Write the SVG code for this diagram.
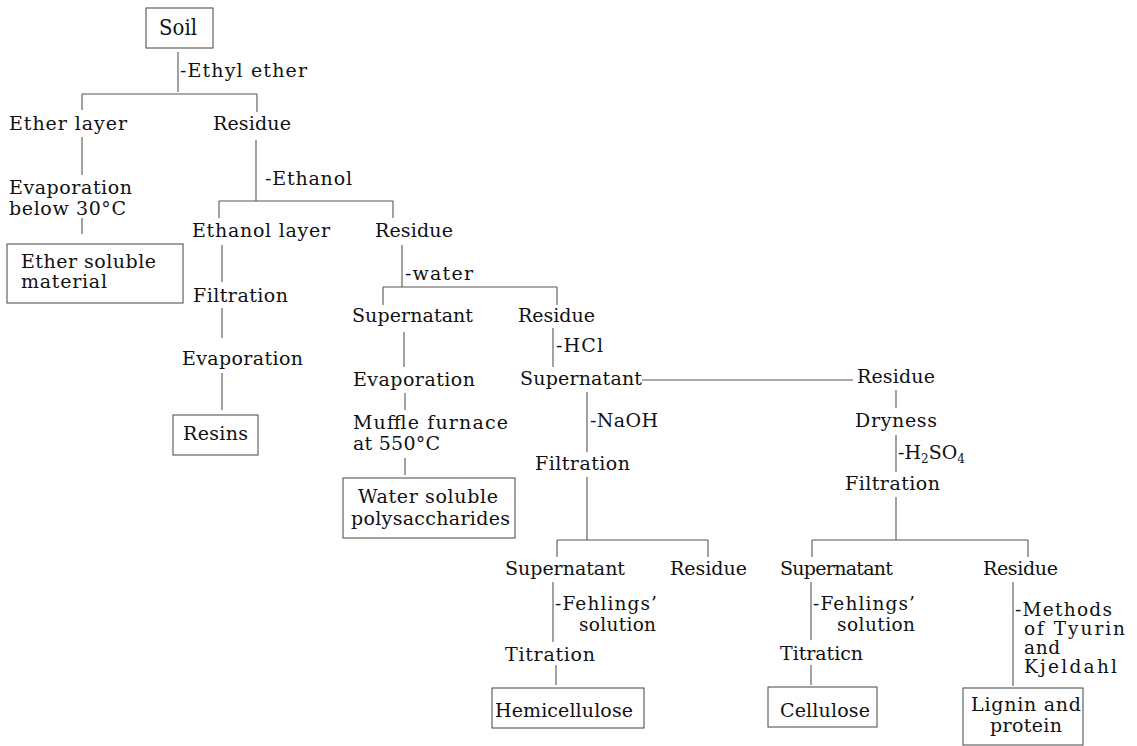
<svg xmlns="http://www.w3.org/2000/svg" width="1137" height="746" viewBox="0 0 1137 746">
<style>
text{font-family:"DejaVu Serif","Liberation Serif",serif;font-size:19px;fill:#111}
.big{font-size:22px}
.sm{font-size:18.5px}
.box{fill:none;stroke:#555;stroke-width:1.1}
#connectors line{stroke:#555;stroke-width:1.1}
.sub{font-size:12px}
</style>
<rect width="1137" height="746" fill="#fff"/>
<g id="connectors">
<line x1="178" y1="52" x2="178" y2="92"/>
<line x1="82" y1="94" x2="257" y2="94"/>
<line x1="82" y1="94" x2="82" y2="110"/>
<line x1="257" y1="94" x2="257" y2="112"/>
<line x1="82" y1="137" x2="82" y2="175"/>
<line x1="82" y1="218" x2="82" y2="234"/>
<line x1="256" y1="140" x2="256" y2="201"/>
<line x1="219" y1="201" x2="393" y2="201"/>
<line x1="219" y1="201" x2="219" y2="218"/>
<line x1="393" y1="201" x2="393" y2="218"/>
<line x1="222" y1="245" x2="222" y2="282"/>
<line x1="222" y1="308" x2="222" y2="338"/>
<line x1="222" y1="373" x2="222" y2="410"/>
<line x1="402" y1="245" x2="402" y2="287"/>
<line x1="383" y1="287" x2="557" y2="287"/>
<line x1="383" y1="287" x2="383" y2="305"/>
<line x1="557" y1="287" x2="557" y2="305"/>
<line x1="404" y1="332" x2="404" y2="367"/>
<line x1="405" y1="393" x2="405" y2="410"/>
<line x1="405" y1="458" x2="405" y2="475"/>
<line x1="553" y1="328" x2="553" y2="367"/>
<line x1="642" y1="380" x2="853" y2="380"/>
<line x1="587" y1="392" x2="587" y2="452"/>
<line x1="587" y1="477" x2="587" y2="540"/>
<line x1="557" y1="540" x2="708" y2="540"/>
<line x1="557" y1="540" x2="557" y2="557"/>
<line x1="708" y1="540" x2="708" y2="557"/>
<line x1="896" y1="390" x2="896" y2="408"/>
<line x1="896" y1="435" x2="896" y2="472"/>
<line x1="896" y1="497" x2="896" y2="540"/>
<line x1="812" y1="540" x2="1028" y2="540"/>
<line x1="812" y1="540" x2="812" y2="557"/>
<line x1="1028" y1="540" x2="1028" y2="557"/>
<line x1="553" y1="582" x2="553" y2="642"/>
<line x1="556" y1="665" x2="556" y2="685"/>
<line x1="811" y1="582" x2="811" y2="640"/>
<line x1="811" y1="665" x2="811" y2="685"/>
<line x1="1013" y1="582" x2="1013" y2="686"/>
</g>
<g id="soil"><rect class="box" x="146" y="8" width="67" height="40"/><text class="big" x="159" y="35" textLength="38" lengthAdjust="spacingAndGlyphs">Soil</text></g>
<g id="lbl-ethyl-ether"><text x="180" y="77" textLength="127">-Ethyl ether</text></g>
<g id="ether-layer"><text x="9" y="130" textLength="118">Ether layer</text></g>
<g id="residue-1"><text x="213" y="130" textLength="78">Residue</text></g>
<g id="evaporation-1"><text x="9" y="194" textLength="123">Evaporation</text><text x="9" y="215" textLength="117">below 30°C</text></g>
<g id="lbl-ethanol"><text x="265" y="185" textLength="87">-Ethanol</text></g>
<g id="ether-soluble"><rect class="box" x="7" y="244" width="176" height="59"/><text x="21" y="268" textLength="135">Ether soluble</text><text x="21" y="288" textLength="86">material</text></g>
<g id="ethanol-layer"><text x="192" y="237" textLength="138">Ethanol layer</text></g>
<g id="residue-2"><text x="375" y="237" textLength="78">Residue</text></g>
<g id="filtration-1"><text x="193" y="302" textLength="95">Filtration</text></g>
<g id="evaporation-2"><text x="182" y="365" textLength="121">Evaporation</text></g>
<g id="resins"><rect class="box" x="173" y="415" width="85" height="40"/><text x="183" y="440" textLength="65">Resins</text></g>
<g id="lbl-water"><text x="405" y="280" textLength="68">-water</text></g>
<g id="supernatant-1"><text x="352" y="322" textLength="121">Supernatant</text></g>
<g id="residue-3"><text x="518" y="322" textLength="77">Residue</text></g>
<g id="evaporation-3"><text x="353" y="386" textLength="122">Evaporation</text></g>
<g id="muffle"><text x="353" y="429" textLength="155">Muffle furnace</text><text x="353" y="450" textLength="87">at 550°C</text></g>
<g id="water-soluble"><rect class="box" x="343" y="478" width="172" height="60"/><text x="358" y="503" textLength="140">Water soluble</text><text x="351" y="525" textLength="159">polysaccharides</text></g>
<g id="lbl-hcl"><text x="556" y="352" textLength="47">-HCl</text></g>
<g id="supernatant-2"><text x="520" y="385" textLength="122">Supernatant</text></g>
<g id="residue-4"><text x="857" y="383" textLength="78">Residue</text></g>
<g id="lbl-naoh"><text x="590" y="427" textLength="68">-NaOH</text></g>
<g id="filtration-2"><text x="535" y="470" textLength="95">Filtration</text></g>
<g id="dryness"><text x="855" y="427" textLength="82">Dryness</text></g>
<g id="lbl-h2so4"><text x="898" y="459">-H<tspan class="sub" dy="4">2</tspan><tspan dy="-4">SO</tspan><tspan class="sub" dy="4">4</tspan></text></g>
<g id="filtration-3"><text x="845" y="490" textLength="95">Filtration</text></g>
<g id="supernatant-3"><text x="505" y="575" textLength="120">Supernatant</text></g>
<g id="residue-5"><text x="670" y="575" textLength="77">Residue</text></g>
<g id="supernatant-4"><text x="780" y="575" textLength="113">Supernatant</text></g>
<g id="residue-6"><text x="983" y="575" textLength="75">Residue</text></g>
<g id="lbl-fehlings-1"><text class="sm" x="555" y="610" textLength="102">-Fehlings’</text><text class="sm" x="579" y="631" textLength="77">solution</text></g>
<g id="titration-1"><text x="505" y="661" textLength="90">Titration</text></g>
<g id="hemicellulose"><rect class="box" x="492" y="688" width="152" height="40"/><text x="495" y="717" textLength="138">Hemicellulose</text></g>
<g id="lbl-fehlings-2"><text class="sm" x="813" y="610" textLength="102">-Fehlings’</text><text class="sm" x="837" y="631" textLength="78">solution</text></g>
<g id="titration-2"><text x="780" y="660" textLength="83">Titraticn</text></g>
<g id="cellulose"><rect class="box" x="768" y="687" width="109" height="40"/><text x="780" y="717" textLength="90">Cellulose</text></g>
<g id="lbl-methods"><text class="sm" x="1015" y="616" textLength="97">-Methods</text><text class="sm" x="1024" y="635" textLength="101">of Tyurin</text><text class="sm" x="1024" y="654" textLength="36">and</text><text class="sm" x="1024" y="673" textLength="93">Kjeldahl</text></g>
<g id="lignin"><rect class="box" x="963" y="688" width="120" height="57"/><text x="971" y="711" textLength="110">Lignin and</text><text x="990" y="732" textLength="72">protein</text></g>
</svg>
